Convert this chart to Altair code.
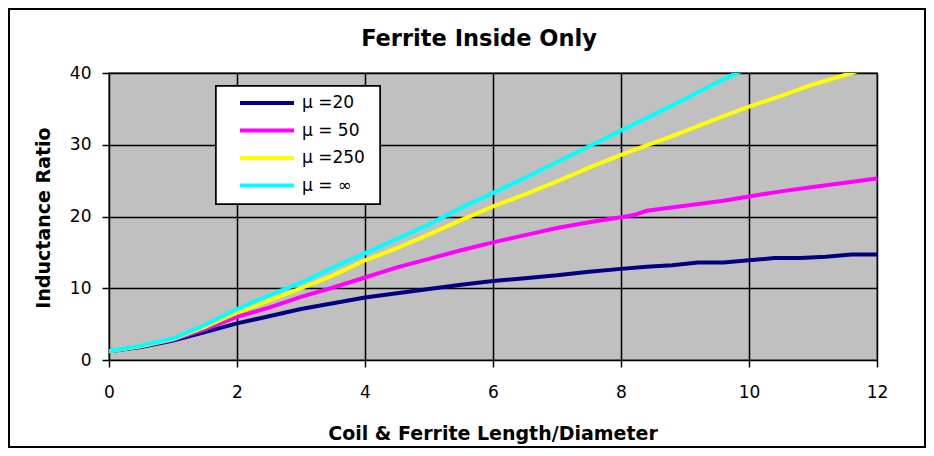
import altair as alt
import pandas as pd

# ---- data ----
title_text = ["Ferrite Inside Only"]

x_20 = [0, 0.5, 1, 1.5, 2, 2.5, 3, 3.5, 4, 4.5, 5, 5.5, 6, 6.5, 7, 7.5, 8, 8.4, 8.8, 9.2, 9.6, 10, 10.4, 10.8, 11.2, 11.6, 12]
y_20 = [1.2, 1.8, 2.7, 3.9, 5.1, 6.1, 7.1, 7.9, 8.7, 9.3, 9.9, 10.5, 11.0, 11.4, 11.8, 12.3, 12.7, 13.0, 13.2, 13.6, 13.6, 13.9, 14.2, 14.2, 14.4, 14.7, 14.7]

x_50 = [0, 0.5, 1, 1.5, 2, 2.5, 3, 3.5, 4, 4.5, 5, 5.5, 6, 6.5, 7, 7.5, 8, 8.2, 8.4, 9, 9.6, 10, 10.5, 11, 11.5, 12]
y_50 = [1.2, 1.9, 2.8, 4.3, 6.0, 7.3, 8.8, 10.1, 11.5, 12.9, 14.1, 15.3, 16.4, 17.4, 18.4, 19.2, 19.9, 20.2, 20.8, 21.5, 22.2, 22.8, 23.5, 24.1, 24.7, 25.3]

x_250 = [0, 0.5, 1, 1.5, 2, 2.5, 3, 3.5, 4, 4.5, 5, 5.5, 6, 6.5, 7, 7.5, 8, 8.4, 8.8, 9.2, 9.6, 10, 10.5, 11, 11.6, 12]
y_250 = [1.2, 1.9, 2.9, 4.6, 6.6, 8.3, 10.0, 11.8, 13.9, 15.6, 17.5, 19.5, 21.4, 23.1, 24.9, 26.8, 28.6, 29.9, 31.2, 32.6, 34.0, 35.3, 36.8, 38.4, 40.0, 41.2]

x_inf = [0, 0.5, 1, 1.5, 2, 2.5, 3, 3.5, 4, 4.5, 5, 5.5, 6, 6.5, 7, 7.5, 8, 8.5, 9, 9.5, 10]
y_inf = [1.2, 2.0, 3.0, 4.9, 7.1, 9.0, 10.8, 12.9, 14.9, 16.9, 18.9, 21.2, 23.3, 25.4, 27.6, 29.8, 32.0, 34.2, 36.4, 38.7, 40.8]

series_names = ["μ =20", "μ = 50", "μ =250", "μ = ∞"]
series_colors = ["#000080", "#FF00FF", "#FFFF00", "#00FFFF"]

rows = []
for name, xs, ys in zip(series_names, [x_20, x_50, x_250, x_inf], [y_20, y_50, y_250, y_inf]):
    for xv, yv in zip(xs, ys):
        rows.append({"x": xv, "y": yv, "series": name})
df = pd.DataFrame(rows)

FONT = "DejaVu Sans"

lines = alt.Chart(df).mark_line(strokeWidth=4, clip=True).encode(
    x=alt.X("x:Q", scale=alt.Scale(domain=[0, 12], nice=False),
            axis=alt.Axis(values=[0, 2, 4, 6, 8, 10, 12], title="Coil & Ferrite Length/Diameter",
                          titleX=383.5, titleY=73, titleBaseline="middle", titleAlign="center",
                          labelFlush=False, labelPadding=17)),
    y=alt.Y("y:Q", scale=alt.Scale(domain=[0, 40], nice=False),
            axis=alt.Axis(values=[0, 10, 20, 30, 40], title="Inductance Ratio",
                          titleX=-66, titleY=144.5, titleAngle=-90,
                          titleBaseline="middle", titleAlign="center",
                          labelFlush=False, labelPadding=11)),
    color=alt.Color("series:N",
                    scale=alt.Scale(domain=series_names, range=series_colors),
                    legend=alt.Legend(title=None, orient="none", legendX=167, legendY=20,
                                      padding=0, symbolType="M-5.75,0H1", symbolStrokeWidth=4,
                                      symbolSize=256, symbolOffset=0, labelOffset=6,
                                      labelFontSize=17, labelFont=FONT, labelColor="black",
                                      rowPadding=9.5)),
    order=alt.Order("x:Q"),
)

# outer chart frame and legend box
frame = alt.Chart(df).mark_rect(fill=None, stroke="black", strokeWidth=2, clip=False).encode(
    x=alt.value(-100), x2=alt.value(816), y=alt.value(-64), y2=alt.value(374)
)
legend_box = alt.Chart(df).mark_rect(fill="white", stroke="black", strokeWidth=1.5, clip=False).encode(
    x=alt.value(107), x2=alt.value(271), y=alt.value(13), y2=alt.value(131)
)

title = alt.Chart(pd.DataFrame({"t": title_text})).mark_text(
    font=FONT, fontSize=22.5, fontWeight="bold", color="black",
    align="center", baseline="middle"
).encode(text="t:N", x=alt.value(370), y=alt.value(-34))

chart = alt.layer(frame, legend_box, lines, title).properties(
    width=768, height=287,
    background="white",
    autosize=alt.AutoSizeParams(type="none"),
    padding={"left": 101, "top": 65, "right": 49, "bottom": 88},
).configure_view(
    fill="#C0C0C0", stroke="#808080", strokeWidth=2
).configure_axis(
    grid=True, gridColor="black", gridWidth=1.5, gridOpacity=1,
    domain=False, ticks=True, tickColor="black", tickWidth=1.5, tickSize=7,
    labelFont=FONT, labelFontSize=17, labelColor="black",
    titleFont=FONT, titleFontSize=19, titleFontWeight="bold", titleColor="black",
)

chart.save("out.html", embed_options={"renderer": "svg", "actions": False})
